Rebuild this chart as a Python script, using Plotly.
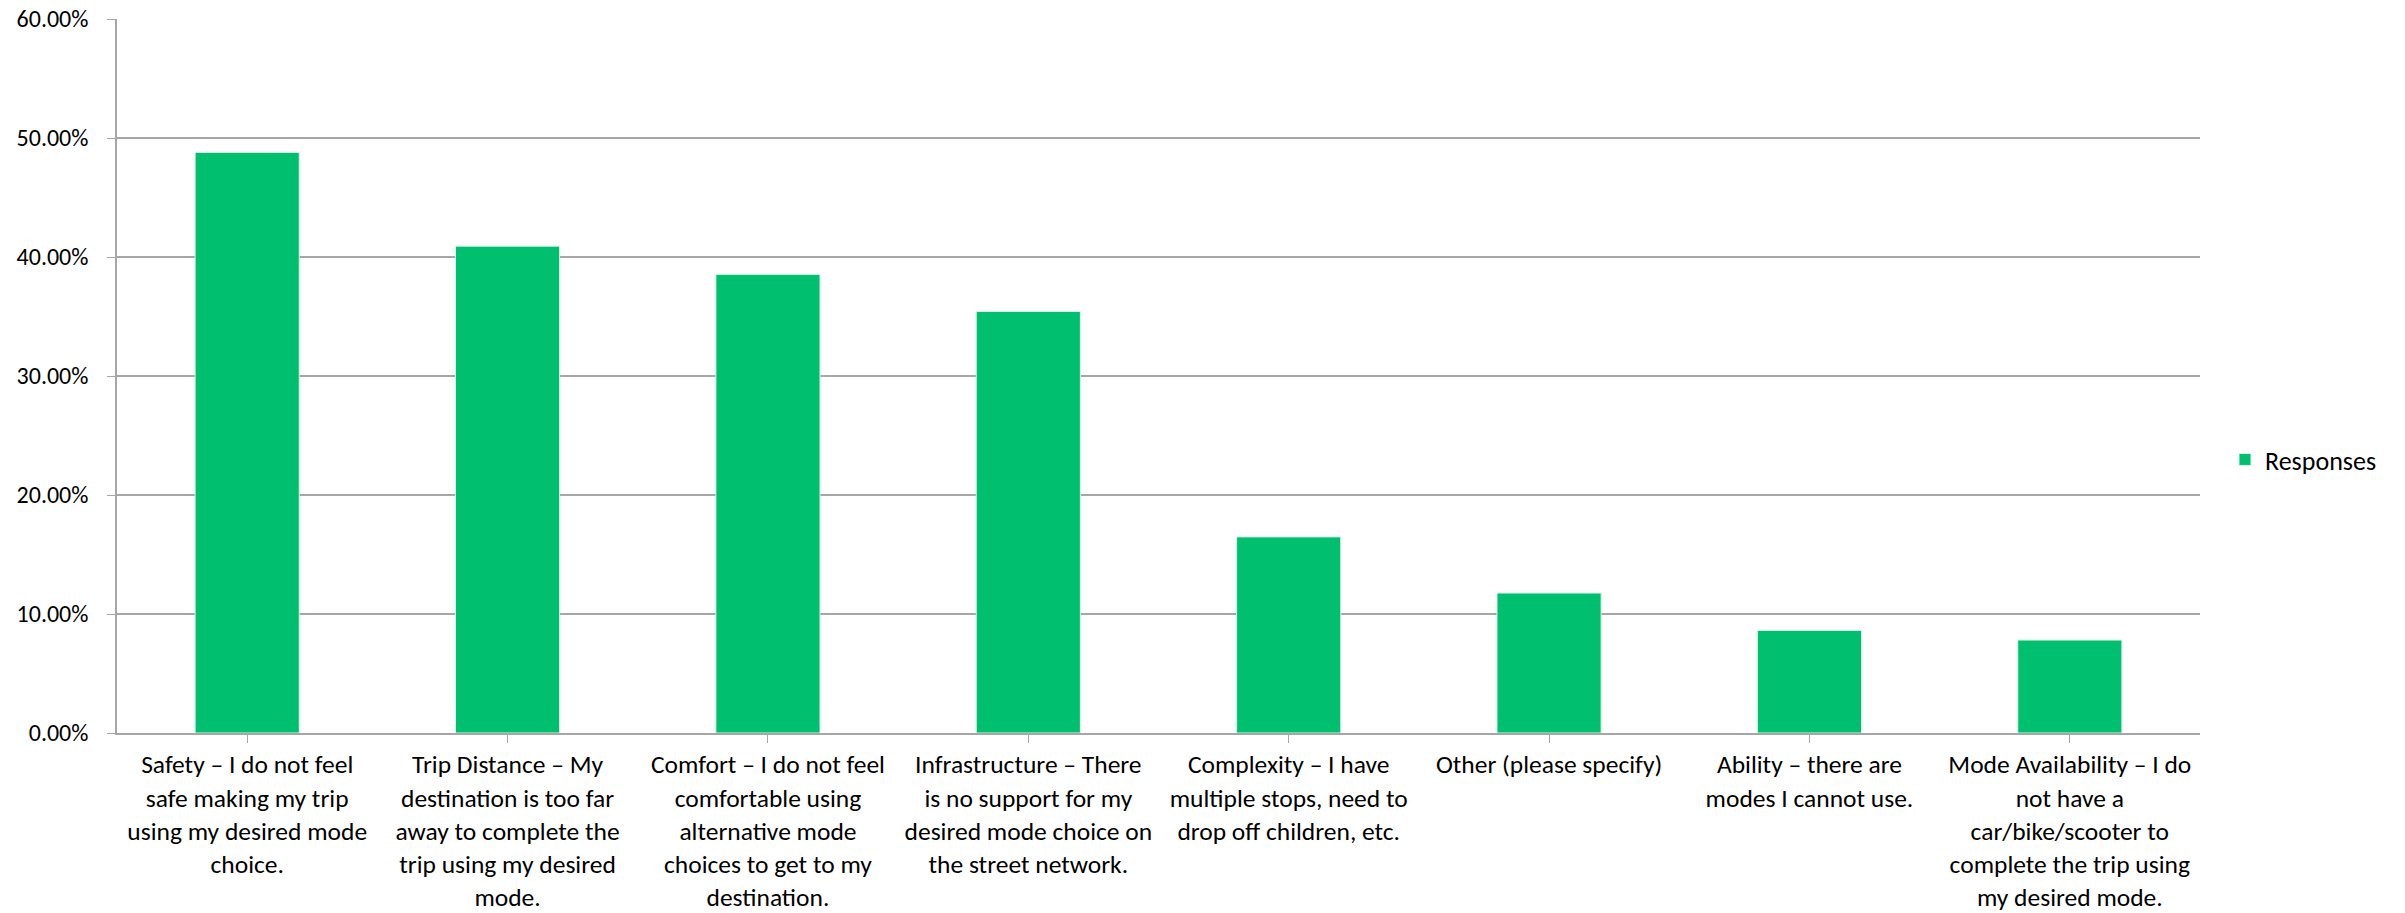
import plotly.graph_objects as go

categories = [
    "Safety – I do not feel<br>safe making my trip<br>using my desired mode<br>choice.",
    "Trip Distance – My<br>destination is too far<br>away to complete the<br>trip using my desired<br>mode.",
    "Comfort – I do not feel<br>comfortable using<br>alternative mode<br>choices to get to my<br>destination.",
    "Infrastructure – There<br>is no support for my<br>desired mode choice on<br>the street network.",
    "Complexity – I have<br>multiple stops, need to<br>drop off children, etc.",
    "Other (please specify)",
    "Ability – there are<br>modes I cannot use.",
    "Mode Availability – I do<br>not have a<br>car/bike/scooter to<br>complete the trip using<br>my desired mode.",
]
responses = [0.4879, 0.4091, 0.3854, 0.3543, 0.1648, 0.1176, 0.0862, 0.0781]
y_ticks = [0.0, 0.1, 0.2, 0.3, 0.4, 0.5, 0.6]

FONT = "Carlito, Calibri, Lato, sans-serif"
GRID = "#A6A6A6"

fig = go.Figure()
fig.add_trace(go.Bar(
    x=list(range(len(categories))),
    y=responses,
    name="Responses",
    marker=dict(color="#00BF6F", line=dict(color="#D9F5E9", width=1)),
    showlegend=True,
))

fig.update_layout(
    width=2405, height=913,
    margin=dict(l=117, r=205, t=19, b=180),
    paper_bgcolor="white", plot_bgcolor="white",
    font=dict(family=FONT, size=25.5, color="#000000"),
    bargap=0.6,
    legend=dict(x=1.012, y=0.383, xanchor="left", yanchor="middle",
                font=dict(family=FONT, size=26, color="#000000"),
                bgcolor="rgba(0,0,0,0)"),
    showlegend=True,
)
fig.update_xaxes(
    tickmode="array",
    tickvals=list(range(len(categories))),
    ticktext=categories,
    range=[-0.5, len(categories) - 0.5],
    tickson="boundaries",
    ticks="outside", ticklen=8, tickcolor=GRID, tickwidth=1,
    showline=True, linecolor=GRID, linewidth=1.5,
    showgrid=False, zeroline=False,
    tickangle=0,
    automargin=False,
    tickfont=dict(family=FONT, size=25.5, color="#000000"),
)
fig.update_yaxes(
    range=[0, 0.6],
    tickmode="array", tickvals=y_ticks,
    tickformat=".2%",
    ticks="outside", ticklen=8, tickcolor=GRID, tickwidth=1,
    showline=True, linecolor=GRID, linewidth=1.5,
    showgrid=True, gridcolor=GRID, gridwidth=1.5,
    zeroline=False,
    automargin=False,
    ticklabelstandoff=14,
    tickfont=dict(family=FONT, size=24, color="#000000"),
)

fig.write_html("out.html")
